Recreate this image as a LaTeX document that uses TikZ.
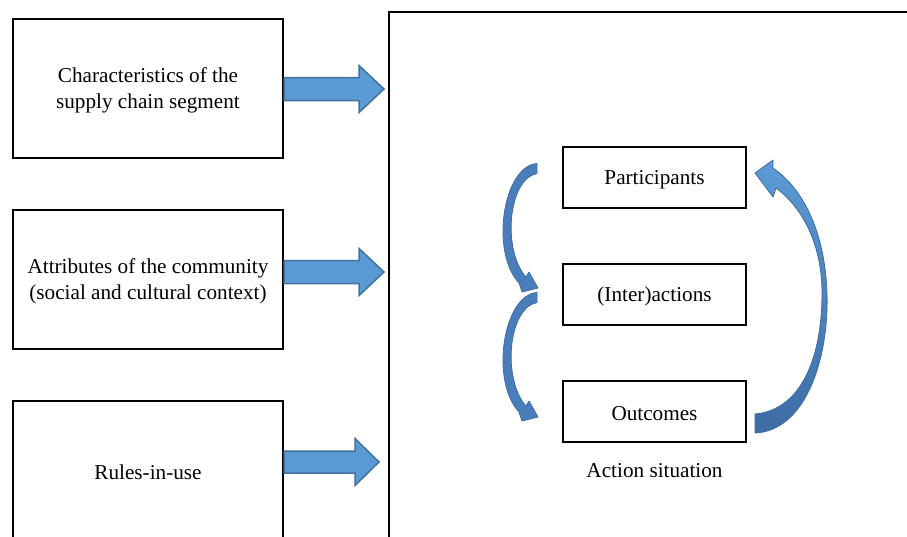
\documentclass[tikz,border=0pt]{standalone}
\usepackage{fontspec}
\setmainfont{Liberation Serif}
\definecolor{blockfill}{RGB}{91,155,213}
\definecolor{blockedge}{RGB}{65,113,156}
\definecolor{curvefill}{RGB}{74,126,187}
\definecolor{curvedark}{RGB}{62,108,165}
\newcommand{\myfs}{\fontsize{21.2}{25.5}\selectfont}
\begin{document}
\begin{tikzpicture}[x=1pt,y=-1pt,
  outerbox/.style={draw, line width=2pt, minimum width=270pt, minimum height=139pt, inner sep=0pt},
  innerbox/.style={draw, line width=2pt, minimum width=183pt, minimum height=61pt, inner sep=0pt},
  txt/.style={label={[plain,align=center,yshift=-2pt]center:#1}},
  blockarrow/.style={fill=blockfill, draw=blockedge, line width=1.5pt, line join=miter},
  leftcurve/.style={fill=curvefill, draw=curvedark, line width=0.8pt, line join=round},
  rightcurve/.style={top color=blockfill, bottom color=curvedark, draw=curvedark, line width=0.8pt, line join=round},
  plain/.style={font=\myfs, inner sep=0pt}]
\useasboundingbox (0,0) rectangle (907,536);
\clip (0,0) rectangle (907,536);
% big frame
\coordinate (fbl) at (389,560);
\coordinate (ftl) at (389,12);
\coordinate (ftr) at (930,12);
\draw[line width=2pt] (fbl) -- (ftl) -- (ftr);
% left boxes
\node[outerbox, txt={Characteristics of the\\supply chain segment}] (b1) at (148,88.5) {};
\node[outerbox, txt={Attributes of the community\\(social and cultural context)}] (b2) at (148,279.5) {};
\node[outerbox, txt={Rules-in-use}] (b3) at (148,470.5) {};
% block arrows
\draw[blockarrow] (b1.east) ++(0,-11) -- ++(75,0) -- ++(0,-12) -- ++(25,23.5) -- ++(-25,23.5) -- ++(0,-12) -- ++(-75,0) -- cycle;
\draw[blockarrow] (b2.east) ++(0,-19) -- ++(75,0) -- ++(0,-12) -- ++(25,23.5) -- ++(-25,23.5) -- ++(0,-12) -- ++(-75,0) -- cycle;
\draw[blockarrow] (b3.east) ++(0,-19.5) -- ++(71,0) -- ++(0,-12.5) -- ++(24,23.5) -- ++(-24,23.5) -- ++(0,-12.5) -- ++(-71,0) -- cycle;
% right boxes
\node[innerbox, txt={Participants}] (p) at (654.5,177.5) {};
\node[innerbox, txt={(Inter)actions}] (ia) at (654.5,294.5) {};
\node[innerbox, txt={Outcomes}] (o) at (654.5,411.5) {};
\node[plain] (as) at (654.5,471) {Action situation};
% left curved arrows
\foreach \dy in {0,129}{
\begin{scope}[yshift=-\dy pt]
\draw[leftcurve] (537,163.5) .. controls (503,166) and (490,252) .. (519,283) -- (522,292) -- (538,288) -- (529,272) -- (526,277) .. controls (502,250) and (508,179) .. (537,173.5) -- cycle;
\end{scope}}
% right curved arrow
\draw[rightcurve] (755,433) .. controls (805,431) and (829,360) .. (827,293) .. controls (825,235) and (805,190) .. (773,168) -- (773,160) -- (755,173) -- (773,197) -- (776,188) .. controls (803,208) and (822,245) .. (822,293) .. controls (822,360) and (800,410) .. (755,414) -- cycle;
\end{tikzpicture}
\end{document}
